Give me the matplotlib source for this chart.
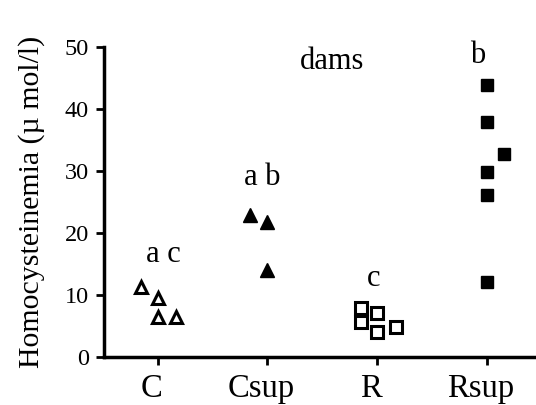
import numpy as np
import matplotlib
matplotlib.use('Agg')
import matplotlib.pyplot as plt
import matplotlib.transforms as mtransforms

plt.rcParams['font.family'] = ['Liberation Serif', 'DejaVu Serif']

groups = ['C', 'Csup', 'R', 'Rsup']
letters = ['a c', 'a b', 'c', 'b']
letter_x = [1.05, 1.95, 2.97, 3.92]
letter_y = [16.5, 29.0, 12.7, 48.7]

# homocysteinemia values and horizontal jitter per group
c_vals = [11.3, 9.5, 6.5, 6.5]
c_off = [-0.15, 0.0, 0.0, 0.17]
csup_vals = [22.9, 21.8, 14.0]
csup_off = [-0.16, 0.0, 0.0]
r_vals = [7.9, 5.6, 7.1, 4.0, 4.8]
r_off = [-0.15, -0.15, 0.0, 0.0, 0.17]
rsup_vals = [43.9, 37.9, 32.7, 29.8, 26.1, 12.1]
rsup_off = [0.0, 0.0, 0.16, 0.0, 0.0, 0.0]

fig = plt.figure(figsize=(5.36, 4.05), dpi=100)
ax = fig.add_axes([0.194, 0.118, 0.806, 0.766])

ax.plot(1 + np.array(c_off), c_vals, ls='none', marker='^', ms=9,
        mfc='white', mec='black', mew=2.2, clip_on=False)
ax.plot(2 + np.array(csup_off), csup_vals, ls='none', marker='^', ms=10,
        mfc='black', mec='black', clip_on=False)
ax.plot(3 + np.array(r_off), r_vals, ls='none', marker='s', ms=9,
        mfc='white', mec='black', mew=2.2, clip_on=False)
ax.plot(4 + np.array(rsup_off), rsup_vals, ls='none', marker='s', ms=9,
        mfc='black', mec='black', clip_on=False)

for i, t in enumerate(letters):
  ax.text(letter_x[i], letter_y[i], t, ha='center', va='center', fontsize=22)
ax.text(2.59, 47.6, 'dams', ha='center', va='center', fontsize=22)

ax.set_xlim(0.51, 4.45)
ax.set_ylim(0, 50)
ax.set_xticks([1, 2, 3, 4])
ax.set_xticklabels(groups, fontsize=23.5)
ax.set_yticks(range(0, 51, 10))
ax.tick_params(axis='y', labelsize=17.5, width=2, length=6, pad=5)
ax.tick_params(axis='x', width=2, length=6, pad=6)
# x labels sit a little left of their ticks in the original
shift = mtransforms.ScaledTranslation(-6/100, 0, fig.dpi_scale_trans)
for lab in ax.get_xticklabels():
  lab.set_transform(lab.get_transform() + shift)
ax.set_ylabel('Homocysteinemia (\u00b5 mol/l)', fontsize=21.5, labelpad=14)
for s in ['top', 'right']:
  ax.spines[s].set_visible(False)
for s in ['left', 'bottom']:
  ax.spines[s].set_linewidth(2.5)

fig.savefig('out.png', dpi=100)
